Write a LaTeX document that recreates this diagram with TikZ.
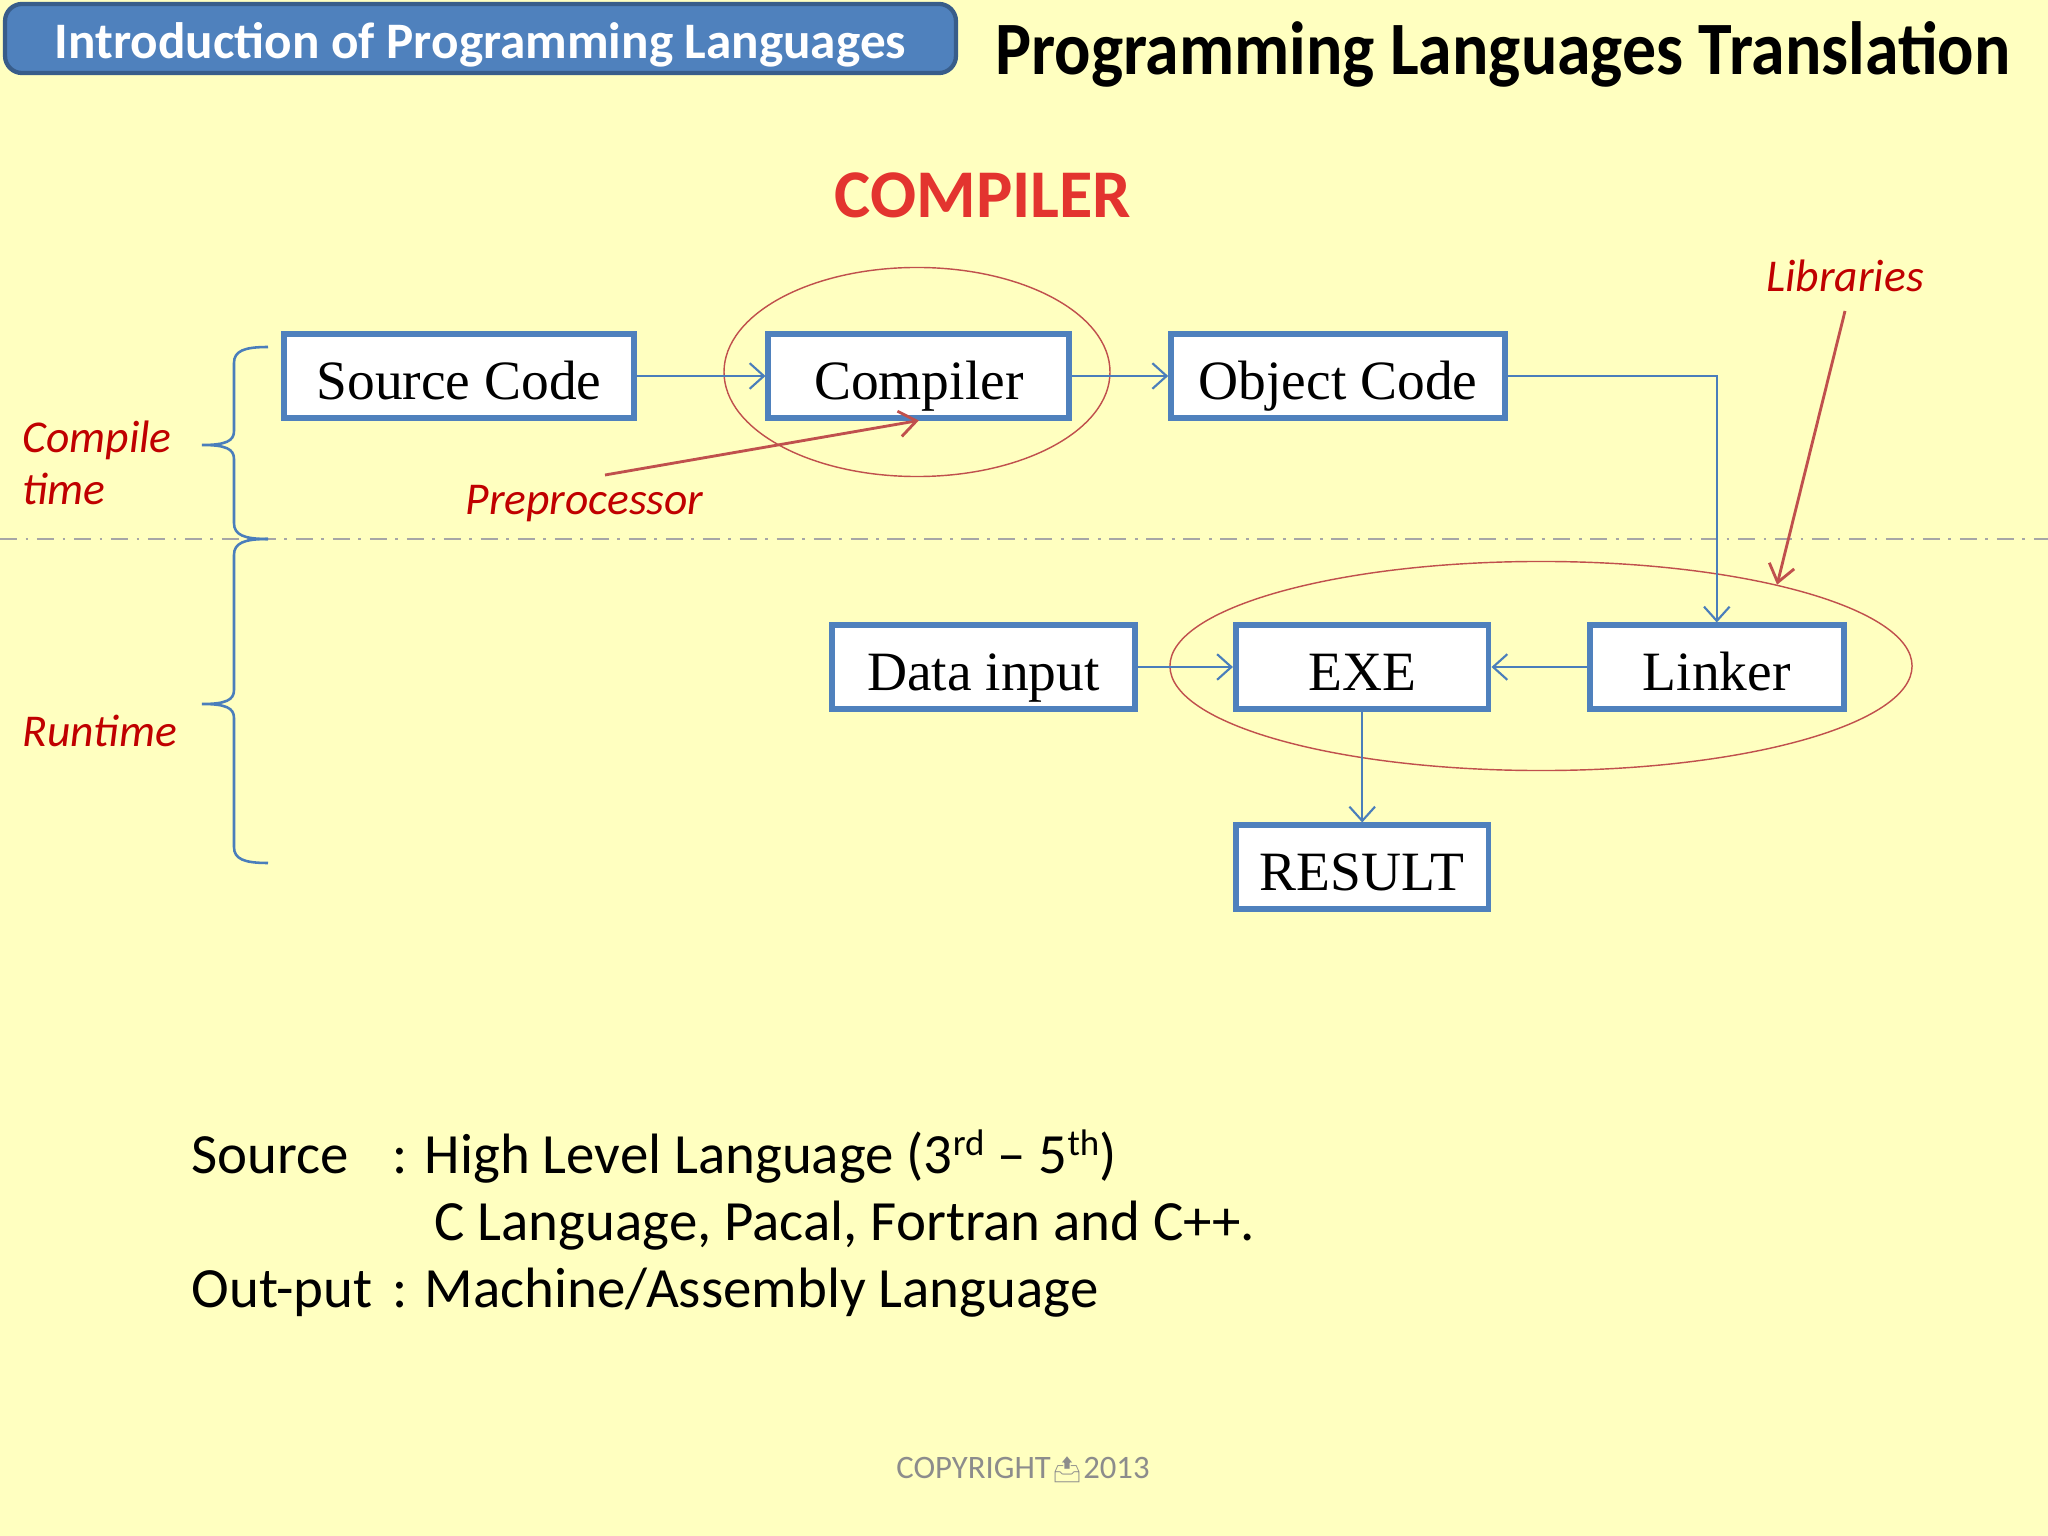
\documentclass[tikz,border=0pt]{standalone}
\usepackage{fontspec}
\setmainfont{Carlito}
\newfontfamily\boxfont{Liberation Serif}
\newfontfamily\headfont[FakeStretch=0.9]{Carlito}
\newfontfamily\iconfont{Noto Emoji}
\usetikzlibrary{arrows.meta,shapes.geometric}

\definecolor{slidebg}{HTML}{FFFFC0}
\definecolor{boxblue}{HTML}{4F81BD}
\definecolor{boxedge}{HTML}{385D8A}
\definecolor{linkblue}{HTML}{4A7EBB}
\definecolor{ringred}{HTML}{C0504D}
\definecolor{notered}{HTML}{C00000}
\definecolor{titlered}{HTML}{E3342F}
\definecolor{rulegray}{HTML}{A6A6A6}
\definecolor{copygray}{HTML}{8C8C8C}

% curly bracket: top row, tip row, bottom row
\newcommand{\spanbrace}[3]{(268,#1) .. controls (244,#1) and (234,#1+4) .. (234,#1+16)
  -- (234,#2-14) .. controls (234,#2-4) and (226,#2) .. (202,#2)
  .. controls (226,#2) and (234,#2+4) .. (234,#2+14)
  -- (234,#3-16) .. controls (234,#3-4) and (244,#3) .. (268,#3)}
\newcommand{\supp}[1]{\raisebox{6pt}{\fontsize{13}{13}\selectfont #1}}

\begin{document}
\begin{tikzpicture}[x=0.35156pt, y=-0.35156pt,
    stage/.style={draw=boxblue, line width=2pt, fill=white, inner sep=0pt,
      minimum height=29.3pt, text height=16.2pt, text depth=0pt,
      font=\boxfont\fontsize{19.5}{24}\selectfont},
    flow/.style={draw=linkblue, line width=0.75pt,
      -{Straight Barb[length=5pt,width=9pt]}},
    ring/.style={ellipse, draw=ringred, line width=0.5pt, inner sep=0pt,
      minimum height=73.5pt},
    note/.style={text=notered, inner sep=0pt,
      font=\fontsize{16}{18.6}\selectfont\itshape},
    pointer/.style={draw=ringred, line width=1pt,
      -{Straight Barb[length=6pt,width=9pt]}},
    stack/.style={draw=linkblue, line width=0.9pt},
    body/.style={inner sep=0pt, font=\fontsize{20}{24}\selectfont}]

  \fill[slidebg] (0,0) rectangle (2048,1536);
  \useasboundingbox (0,0) rectangle (2048,1536);

  % slide header
  \node[fill=boxblue, draw=boxedge, line width=1.5pt, rounded corners=6pt,
    minimum width=334.3pt, minimum height=24.3pt, inner sep=0pt,
    text height=13.8pt, text depth=0pt, text=white,
    font=\bfseries\fontsize{18}{22}\selectfont]
    (topic) at (480.5,38.5) {Introduction of Programming Languages};
  \node[anchor=base, inner sep=0pt, font=\headfont\bfseries\fontsize{26.5}{30}\selectfont]
    (heading) at (1503,75) {Programming Languages Translation};

  \node[anchor=base, inner sep=0pt, text=titlered,
    font=\bfseries\fontsize{24}{28}\selectfont]
    (kind) at (983,218) {COMPILER};

  % compile time / runtime split
  \draw[rulegray, line width=1pt, dash pattern=on 6pt off 3pt on 1pt off 3pt]
    (0,539) -- (2048,539);
  \draw[stack] \spanbrace{347}{445}{539};
  \draw[stack] \spanbrace{539}{704}{863};
  \node[note, anchor=base west, align=left] (phase1) at (22,505) {Compile\\time};
  \node[note, anchor=base west] (phase2) at (22,747) {Runtime};

  % groups
  \node[ring, minimum width=135.7pt] (comp-ring) at (917,372) {};
  \node[ring, minimum width=260.9pt] (link-ring) at (1541,666) {};

  % stages
  \node[stage, minimum width=123pt] (src) at (459,376) {Source Code};
  \node[stage, minimum width=105.8pt] (comp) at (918.8,376) {Compiler};
  \node[stage, minimum width=117.4pt] (obj) at (1338,376) {Object Code};
  \node[stage, minimum width=106.5pt] (data) at (983.4,667) {Data input};
  \node[stage, minimum width=88.9pt] (exe) at (1362.2,667) {EXE};
  \node[stage, minimum width=89.3pt] (link) at (1716.8,667) {Linker};
  \node[stage, minimum width=88.9pt] (res) at (1362.2,867) {RESULT};

  \draw[flow] (src) -- (comp);
  \draw[flow] (comp) -- (obj);
  \draw[flow] (obj.east) -| (link.north);
  \draw[flow] (link) -- (exe);
  \draw[flow] (data) -- (exe);
  \draw[flow] (exe) -- (res);

  % side notes
  \node[note, anchor=base west] (prep) at (465,515) {Preprocessor};
  \coordinate (prep-tail) at (605,475);
  \draw[pointer] (prep-tail) -- (comp.south);

  \node[note, anchor=base] (libs) at (1845,292) {Libraries};
  \coordinate (libs-tail) at (1845,311);
  \draw[pointer] (libs-tail) -- (link-ring.19);

  % source / output
  \node[body, anchor=base west] (src-key) at (191,1173) {Source};
  \node[body, anchor=base west] (src-val) at (392,1173)
    {: High Level Language (3\supp{rd} – 5\supp{th})};
  \node[body, anchor=base west] (src-more) at (434,1240)
    {C Language, Pacal, Fortran and C++.};
  \node[body, anchor=base west] (out-key) at (191,1307) {Out-put};
  \node[body, anchor=base west] (out-val) at (392,1307)
    {: Machine/Assembly Language};

  \node[anchor=base, inner sep=0pt, text=copygray,
    font=\fontsize{11.5}{14}\selectfont]
    (copy) at (1023,1478) {COPYRIGHT{\iconfont\fontsize{9}{9}\selectfont 📤}2013};
\end{tikzpicture}
\end{document}
